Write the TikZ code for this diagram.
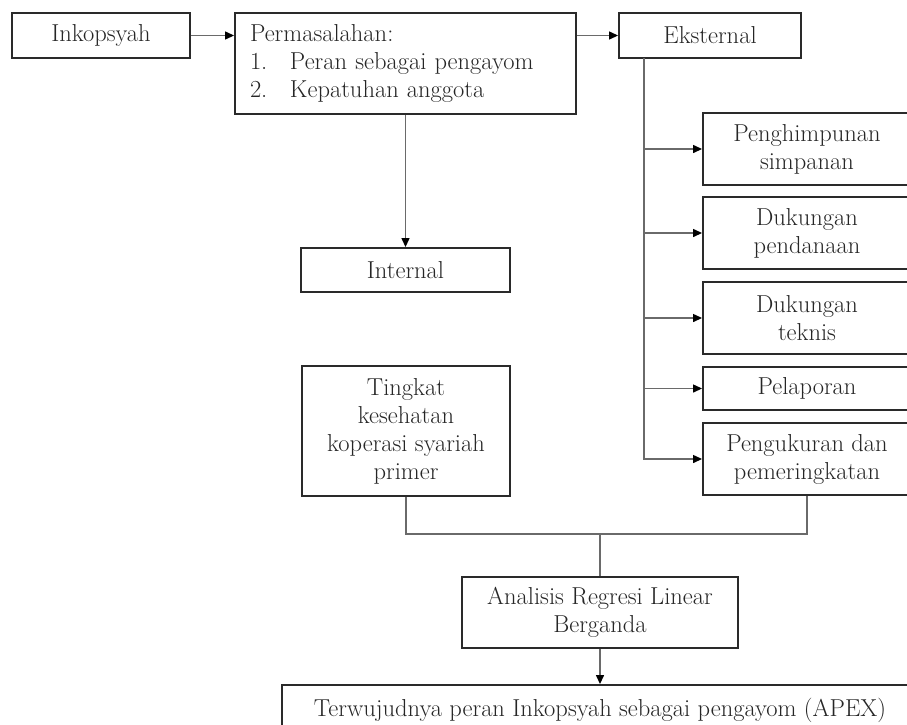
\documentclass[tikz,border=0pt]{standalone}
\usetikzlibrary{arrows.meta}
\definecolor{boxc}{HTML}{2A2A2A}
\definecolor{connc}{HTML}{6A6A6A}
\definecolor{txt}{HTML}{262626}
\begin{document}
\begin{tikzpicture}[x=1pt,y=-1pt,
  box/.style={draw=boxc, line width=1.9pt, inner sep=0pt, align=center, text=txt,
    font=\fontsize{24.5}{28}\selectfont},
  conn/.style={draw=connc, line width=1.3pt},
  arr/.style={conn, -{Triangle[length=9pt,width=8pt,color=black]}},
]
\useasboundingbox (0,0) rectangle (907,724);
\clip (0,0) rectangle (907,724);
\fill[white] (0,0) rectangle (907,724);

\node[box, minimum width=178pt, minimum height=45pt] (ink) at (101,35.5) {Inkopsyah};
\node[box, minimum width=341pt, minimum height=101pt, align=left, text width=311pt] (perm) at (405.5,63.5)
  {Permasalahan:\\\makebox[40pt][l]{1.}Peran sebagai pengayom\\\makebox[40pt][l]{2.}Kepatuhan anggota};
\node[box, minimum width=182pt, minimum height=45pt] (eks) at (710,35.5) {Eksternal};

\node[box, minimum width=208pt, minimum height=72pt] (peng) at (807,149) {Penghimpunan\\simpanan};
\node[box, minimum width=208pt, minimum height=72pt] (dana) at (807,233) {Dukungan\\pendanaan};
\node[box, minimum width=208pt, minimum height=72pt] (tek) at (807,318) {Dukungan\\teknis};
\node[box, minimum width=208pt, minimum height=43pt] (lap) at (807,388.5) {Pelaporan};
\node[box, minimum width=208pt, minimum height=72pt] (ukur) at (807,459) {Pengukuran dan\\pemeringkatan};

\node[box, minimum width=209pt, minimum height=44pt] (intl) at (405.5,270) {Internal};
\node[box, minimum width=208pt, minimum height=130pt] (ting) at (406,431)
  {Tingkat\\kesehatan\\koperasi syariah\\primer};
\node[box, minimum width=276pt, minimum height=71pt] (anal) at (600,612.5)
  {Analisis Regresi Linear\\Berganda};
\node[box, minimum width=636pt, minimum height=50pt] (terw) at (600,710)
  {Terwujudnya peran Inkopsyah sebagai pengayom (APEX)};

\coordinate (trunk) at (644,58);
\coordinate (hbar) at (0,534);

\draw[arr] (ink.east) -- (perm.west |- ink.east);
\draw[arr] (perm.east |- eks.west) -- (eks.west);
\draw[arr] (perm.south) -- (intl.north);
\draw[arr] (trunk) |- (ukur.west);
\foreach \n in {peng,dana,tek,lap}
  \draw[arr] (trunk |- \n.west) -- (\n.west);
\draw[conn] (ting.south) -- (ting.south |- hbar) -- (ukur.south |- hbar) -- (ukur.south);
\draw[conn] (anal.north |- hbar) -- (anal.north);
\draw[arr] (anal.south) -- (terw.north);
\end{tikzpicture}
\end{document}
